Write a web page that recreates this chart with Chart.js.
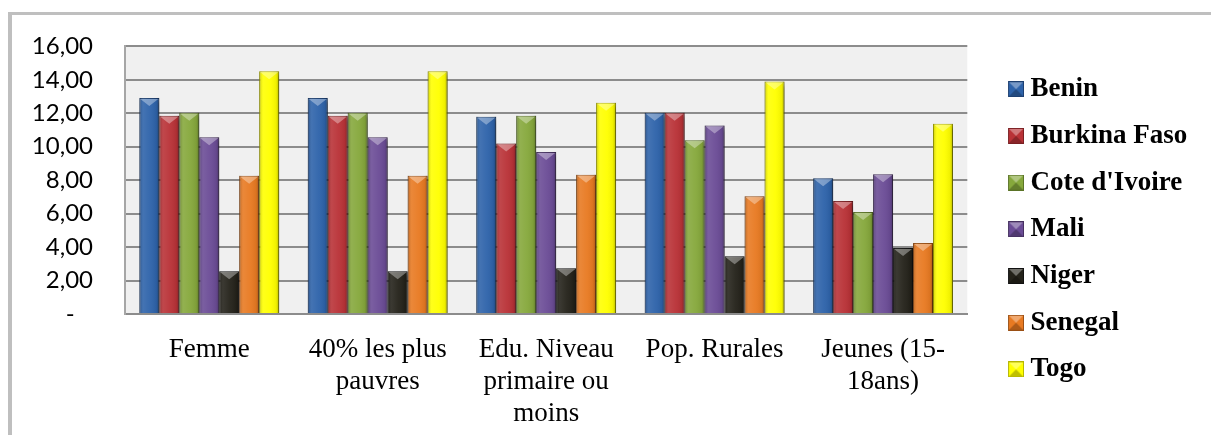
<!DOCTYPE html>
<html>
<head>
<meta charset="utf-8">
<script src="https://cdn.jsdelivr.net/npm/chart.js@4.4.1/dist/chart.umd.min.js"></script>
<style>
  html, body { margin: 0; padding: 0; background: #fff; }
  #wrap { position: relative; width: 1211px; height: 435px; overflow: hidden; }
  #frame { position: absolute; left: 8px; top: 12px; right: 0; bottom: 0;
           border-top: 3px solid #bfbfbf; border-left: 4px solid #bfbfbf; }
  #c { position: absolute; left: 0; top: 0; }
</style>
</head>
<body>
<div id="wrap">
  <div id="frame"></div>
  <canvas id="c" width="1211" height="435"></canvas>
</div>
<script>
// categories and values
const categories = ['Femme', ['40% les plus', 'pauvres'], ['Edu. Niveau', 'primaire ou', 'moins'], 'Pop. Rurales', ['Jeunes (15-', '18ans)']];
const countries = ['Benin', 'Burkina Faso', "Cote d'Ivoire", 'Mali', 'Niger', 'Senegal', 'Togo'];

const benin   = [12.92, 12.92, 11.80, 12.04, 8.12];
const burkina = [11.86, 11.86, 10.20, 12.04, 6.76];
const cote    = [12.04, 12.04, 11.86, 10.39, 6.10];
const mali    = [10.57, 10.57, 9.69, 11.27, 8.35];
const niger   = [2.55, 2.55, 2.73, 3.45, 3.94];
const senegal = [8.27, 8.27, 8.33, 7.04, 4.24];
const togo    = [14.51, 14.51, 12.63, 13.90, 11.37];

const yTicks = [0, 2, 4, 6, 8, 10, 12, 14, 16];

const colors  = ['#2e63aa', '#b93237', '#86a83c', '#6b4c96', '#24221a', '#e87a22', '#ffff00'];
const borders = ['#1d3f70', '#7a1f22', '#5a7326', '#45305f', '#111', '#9a4f14', '#b5b500'];

const series = [benin, burkina, cote, mali, niger, senegal, togo];

// legend swatches: bevelled square sitting at the right end of a clear strip
function makeSwatch(fill, edge) {
    const c = document.createElement('canvas');
    c.width = 44;
    c.height = 16;
    const g = c.getContext('2d');
    const x0 = 28, s = 16;
    g.fillStyle = fill;
    g.fillRect(x0, 0, s, s);
    g.fillStyle = 'rgba(255,255,255,0.35)';
    g.beginPath(); g.moveTo(x0, 0); g.lineTo(x0 + s, 0); g.lineTo(x0 + s / 2, s / 2); g.closePath(); g.fill();
    g.fillStyle = 'rgba(0,0,0,0.25)';
    g.beginPath(); g.moveTo(x0, s); g.lineTo(x0 + s, s); g.lineTo(x0 + s / 2, s / 2); g.closePath(); g.fill();
    g.strokeStyle = edge;
    g.lineWidth = 1;
    g.strokeRect(x0 + 0.5, 0.5, s - 1, s - 1);
    return c;
}
const swatches = colors.map((c, i) => makeSwatch(c, borders[i]));

// light grey plot area
const plotBg = {
    id: 'plotBg',
    beforeDraw(chart) {
        const a = chart.chartArea;
        chart.ctx.save();
        chart.ctx.fillStyle = '#f0f0f0';
        chart.ctx.fillRect(a.left, a.top, a.right - a.left, a.bottom - a.top);
        chart.ctx.restore();
    }
};

// soft drop shadow under the bars
const barShadow = {
    id: 'barShadow',
    beforeDatasetsDraw(chart) {
        const ctx = chart.ctx;
        ctx.save();
        ctx.shadowColor = 'rgba(0,0,0,0.35)';
        ctx.shadowBlur = 4;
        ctx.shadowOffsetX = 2;
        ctx.shadowOffsetY = 3;
    },
    afterDatasetsDraw(chart) {
        chart.ctx.restore();
    }
};

// rough bevel look on each bar
const bevel = {
    id: 'bevel',
    afterDatasetsDraw(chart) {
        const ctx = chart.ctx;
        chart.data.datasets.forEach((ds, i) => {
            chart.getDatasetMeta(i).data.forEach(bar => {
                const l = bar.x - bar.width / 2, r = bar.x + bar.width / 2;
                const t = bar.y, b = bar.base;
                const g = ctx.createLinearGradient(l, 0, r, 0);
                g.addColorStop(0, 'rgba(0,0,0,0.22)');
                g.addColorStop(0.2, 'rgba(255,255,255,0.10)');
                g.addColorStop(0.55, 'rgba(255,255,255,0.04)');
                g.addColorStop(0.85, 'rgba(0,0,0,0.06)');
                g.addColorStop(1, 'rgba(0,0,0,0.28)');
                ctx.save();
                ctx.fillStyle = g;
                ctx.fillRect(l, t, r - l, b - t);
                const d = Math.min(8, (b - t) / 2);
                ctx.fillStyle = 'rgba(255,255,255,0.35)';
                ctx.beginPath();
                ctx.moveTo(l + 1, t + 1);
                ctx.lineTo(r - 1, t + 1);
                ctx.lineTo(bar.x, t + d);
                ctx.closePath();
                ctx.fill();
                ctx.restore();
            });
        });
    }
};

const ctx = document.getElementById('c').getContext('2d');
const chart = new Chart(ctx, {
    type: 'bar',
    data: {
        labels: categories,
        datasets: countries.map((name, i) => ({
            label: name,
            data: series[i],
            backgroundColor: colors[i],
            borderColor: borders[i],
            borderWidth: 1,
            borderSkipped: 'bottom',
            categoryPercentage: 0.83,
            barPercentage: 1.0
        }))
    },
    options: {
        responsive: false,
        animation: false,
        devicePixelRatio: 1,
        layout: { padding: { top: 42, right: 13.7, bottom: 0, left: 0 } },
        plugins: {
            tooltip: { enabled: false },
            legend: {
                position: 'right',
                align: 'start',
                // blank title only pushes the list down a little
                title: { display: true, text: ' ', font: { size: 10, lineHeight: 1.4 }, padding: 0 },
                labels: {
                    usePointStyle: true,
                    pointStyleWidth: 30,
                    boxHeight: 16,
                    padding: 19.7,
                    color: '#000',
                    font: { family: 'Liberation Serif', size: 27, weight: 'bold' },
                    generateLabels(chart) {
                        const items = Chart.defaults.plugins.legend.labels.generateLabels(chart);
                        items.forEach((it, i) => { it.pointStyle = swatches[i]; });
                        return items;
                    }
                }
            }
        },
        scales: {
            x: {
                grid: { display: false, drawTicks: false },
                border: { display: true, color: '#8c8c8c', width: 2 },
                ticks: {
                    color: '#000',
                    autoSkip: false,
                    maxRotation: 0,
                    padding: 20,
                    font: { family: 'Liberation Serif', size: 27, lineHeight: 1.185 }
                },
                afterFit(s) { s.height = 121; }
            },
            y: {
                min: 0,
                max: 16,
                afterBuildTicks(s) { s.ticks = yTicks.map(v => ({ value: v })); },
                grid: { color: '#8c8c8c', lineWidth: 2, drawTicks: false },
                border: { display: true, color: '#a6a6a6', width: 2 },
                ticks: {
                    color: '#000',
                    padding: 32,
                    font: { family: 'Lato', size: 24 },
                    callback: v => v === 0 ? '-   ' : v.toFixed(2).replace('.', ',')
                },
                afterFit(s) { s.width = 125; }
            }
        }
    },
    plugins: [plotBg, barShadow, bevel]
});
</script>
</body>
</html>
